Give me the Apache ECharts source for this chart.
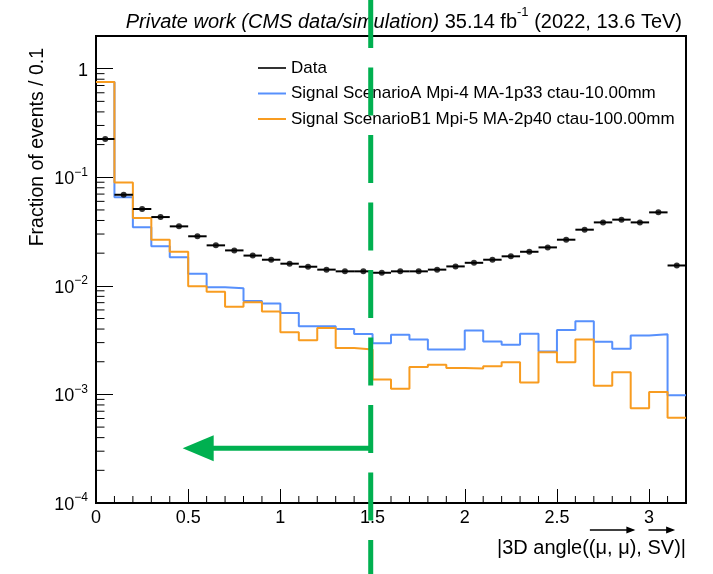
<!DOCTYPE html>
<html><head><meta charset="utf-8">
<script src="https://cdn.jsdelivr.net/npm/echarts@6/dist/echarts.min.js"></script>
<style>html,body{margin:0;padding:0;background:#fff}#c{width:713px;height:574px}</style>
</head><body><div id="c"></div>
<script>
// ---- data ----
const binEdges = [0,0.1,0.2,0.3,0.4,0.5,0.6,0.7,0.8,0.9,1.0,1.1,1.2,1.3,1.4,1.5,1.6,1.7,1.8,1.9,2.0,2.1,2.2,2.3,2.4,2.5,2.6,2.7,2.8,2.9,3.0,3.1,3.2];
const dataValues = [0.225,0.069,0.051,0.043,0.0353,0.0286,0.0236,0.0212,0.019,0.0174,0.016,0.0150,0.0141,0.0136,0.0136,0.0132,0.0136,0.0136,0.0141,0.0151,0.0163,0.0174,0.0187,0.0206,0.0226,0.0266,0.0329,0.0384,0.0407,0.0384,0.0475,0.0154];
const sigA = [0.754,0.0653,0.0346,0.0231,0.0183,0.0129,0.0097,0.0095,0.00726,0.00686,0.00562,0.00424,0.00424,0.00401,0.00361,0.00296,0.00355,0.00320,0.00259,0.00259,0.00387,0.00308,0.00287,0.00363,0.00249,0.00392,0.00471,0.00306,0.00264,0.00348,0.00358,0.00098];
const sigB = [0.754,0.0897,0.0422,0.0266,0.0206,0.0099,0.0088,0.00643,0.00705,0.00579,0.00373,0.00315,0.00409,0.00268,0.00259,0.00137,0.00113,0.00179,0.00188,0.00175,0.00173,0.00182,0.00198,0.00129,0.00244,0.00198,0.00320,0.00120,0.00160,0.000745,0.00105,0.00061];
const seriesNames = ['Data','Signal ScenarioA Mpi-4 MA-1p33 ctau-10.00mm','Signal ScenarioB1 Mpi-5 MA-2p40 ctau-100.00mm'];
const xTickValues = [0,0.5,1,1.5,2,2.5,3];
const xTickLabels = ['0','0.5','1','1.5','2','2.5','3'];
const xMinorValues = [0.1,0.2,0.3,0.4,0.6,0.7,0.8,0.9,1.1,1.2,1.3,1.4,1.6,1.7,1.8,1.9,2.1,2.2,2.3,2.4,2.6,2.7,2.8,2.9,3.1];
const yTickValues = [1e-4,1e-3,1e-2,1e-1,1];
const yTickLabels = ['{b|10}{s|\u22124}','{b|10}{s|\u22123}','{b|10}{s|\u22122}','{b|10}{s|\u22121}','{b|1}'];
const yMinorMantissa = [2,3,4,5,6,7,8,9];
const yMinorDecades = [1e-4,1e-3,1e-2,1e-1];
const cutX = 1.49;          // green dashed cut line
const arrowTipX = 0.47;     // green arrow tip
const arrowY = 3.2e-4;

const FAMILY = '"Liberation Sans", Arial, Helvetica, sans-serif';
const colA = '#5790fc', colB = '#f89c20';

const yMinorValues = [];
yMinorDecades.forEach(d => yMinorMantissa.forEach(m => yMinorValues.push(m*d)));

function stepData(vals){
  const d = vals.map((v,i)=>[binEdges[i], v]);
  d.push([binEdges[binEdges.length-1], vals[vals.length-1]]);
  return d;
}
const centers = dataValues.map((v,i)=>[(binEdges[i]+binEdges[i+1])/2, v]);
const errBars = dataValues.map((v,i)=>[binEdges[i], binEdges[i+1], v]);

const chart = echarts.init(document.getElementById('c'), null, {renderer:'canvas'});
const option = {
  animation:false,
  backgroundColor:'#fff',
  textStyle:{fontFamily:FAMILY},
  title:{
    text:'{i|Private work (CMS data/simulation)}{n| 35.14 fb}{s|-1}{n| (2022, 13.6 TeV)}',
    right:26, top:1,
    textStyle:{fontWeight:'normal', rich:{
      i:{fontFamily:FAMILY, fontStyle:'italic', fontWeight:'normal', fontSize:20, color:'#000', lineHeight:26, verticalAlign:'bottom'},
      n:{fontFamily:FAMILY, fontWeight:'normal', fontSize:20, color:'#000', lineHeight:26, verticalAlign:'bottom'},
      s:{fontFamily:FAMILY, fontWeight:'normal', fontSize:13, color:'#000', lineHeight:26, verticalAlign:'top'}
    }}
  },
  grid:{left:96, right:27, top:36, bottom:71, show:true, borderColor:'#000', borderWidth:2, backgroundColor:'transparent'},
  legend:{
    orient:'vertical', left:253, top:54, itemWidth:28, itemHeight:2, itemGap:7.5, icon:'rect',
    data:seriesNames,
    textStyle:{fontFamily:FAMILY, fontSize:17, color:'#000', lineHeight:18}
  },
  xAxis:{
    type:'value', min:0, max:3.2, interval:0.5,
    axisLine:{show:true, lineStyle:{color:'#000', width:2}},
    axisTick:{show:true, inside:true, length:14, lineStyle:{color:'#000', width:1}},
    splitLine:{show:false},
    axisLabel:{show:true, color:'#000', fontSize:18, fontFamily:FAMILY, margin:6, showMaxLabel:false,
      formatter:function(v){ const k = xTickValues.findIndex(t=>Math.abs(t-v)<1e-9); return k<0?'':xTickLabels[k]; }}
  },
  yAxis:{
    type:'log', logBase:10, min:1e-4, max:2,
    axisLine:{show:true, lineStyle:{color:'#000', width:2}},
    axisTick:{show:true, inside:true, length:17, lineStyle:{color:'#000', width:1}},
    splitLine:{show:false},
    axisLabel:{show:true, color:'#000', margin:8, showMaxLabel:false,
      formatter:function(v){ const k = yTickValues.findIndex(t=>Math.abs(Math.log10(t)-Math.log10(v))<1e-6); return k<0?'':yTickLabels[k]; },
      rich:{
        b:{fontFamily:FAMILY, fontSize:18, color:'#000', lineHeight:22, verticalAlign:'bottom'},
        s:{fontFamily:FAMILY, fontSize:12, color:'#000', lineHeight:22, verticalAlign:'top'}
      }}
  },
  series:[
    {name:seriesNames[1], type:'line', step:'end', showSymbol:false, symbol:'none', data:stepData(sigA),
     color:colA, lineStyle:{color:colA, width:2}, z:3},
    {name:seriesNames[2], type:'line', step:'end', showSymbol:false, symbol:'none', data:stepData(sigB),
     color:colB, lineStyle:{color:colB, width:2}, z:4},
    {type:'custom', silent:true, z:5, data:errBars,
     renderItem:function(p, api){
       const a = api.coord([api.value(0), api.value(2)]);
       const b = api.coord([api.value(1), api.value(2)]);
       return {type:'line', shape:{x1:a[0], y1:a[1], x2:b[0], y2:b[1]}, style:{stroke:'#000', lineWidth:2}};
     }},
    {name:seriesNames[0], type:'scatter', symbol:'circle', symbolSize:6, data:centers, color:'#000',
     itemStyle:{color:'#000'}, z:6},
    {type:'custom', silent:true, clip:false, z:7, data:yMinorValues.map(v=>[0,v]),
     renderItem:function(p, api){
       const a = api.coord([api.value(0), api.value(1)]);
       return {type:'line', shape:{x1:a[0], y1:a[1], x2:a[0]+8.5, y2:a[1]}, style:{stroke:'#000', lineWidth:1}};
     }},
    {type:'custom', silent:true, clip:false, z:7, data:xMinorValues.map(v=>[v,1e-4]),
     renderItem:function(p, api){
       const a = api.coord([api.value(0), api.value(1)]);
       return {type:'line', shape:{x1:a[0], y1:a[1], x2:a[0], y2:a[1]-7}, style:{stroke:'#000', lineWidth:1}};
     }}
  ]
};
chart.setOption(option);

// ---- annotations (axis titles, cut line, arrow) ----
const X_FS = 20;
const ctx = document.createElement('canvas').getContext('2d');
ctx.font = X_FS + 'px "Liberation Sans"';
const parts = ['|3D angle(', '(\u03bc, \u03bc)', ', ', 'SV', ')|'];
const widths = parts.map(s=>ctx.measureText(s).width);
const total = widths.reduce((a,b)=>a+b,0);
const xRight = 686, xTitleY = 548;
let xs = xRight - total;
const starts = [];
widths.forEach(w=>{ starts.push(xs); xs += w; });
function overArrow(x0, x1, y){
  return [
    {type:'line', shape:{x1:x0, y1:y, x2:x1-2, y2:y}, style:{stroke:'#000', lineWidth:1.5}},
    {type:'polygon', shape:{points:[[x1,y],[x1-9,y-3.5],[x1-9,y+3.5]]}, style:{fill:'#000'}}
  ];
}
const cutPx = chart.convertToPixel({gridIndex:0}, [cutX, arrowY]);
const tipPx = chart.convertToPixel({gridIndex:0}, [arrowTipX, arrowY]);
const green = '#00B050';
chart.setOption({graphic:[
  {type:'text', x:38, y:48, rotation:Math.PI/2, style:{text:'Fraction of events / 0.1', fontSize:19.5, fontFamily:'Liberation Sans', fill:'#000', align:'right', verticalAlign:'middle'}},
  {type:'text', x:xRight, y:xTitleY, style:{text:parts.join(''), fontSize:X_FS, fontFamily:'Liberation Sans', fill:'#000', align:'right', verticalAlign:'middle'}},
  ...overArrow(starts[1]+1, starts[1]+widths[1]-1, 530),
  ...overArrow(starts[3]+1, starts[3]+widths[3]+1, 530),
  {type:'line', z:100, shape:{x1:cutPx[0], y1:0, x2:cutPx[0], y2:574}, style:{stroke:green, lineWidth:5, lineDash:[48,19.5]}},
  {type:'line', z:100, shape:{x1:cutPx[0], y1:cutPx[1], x2:tipPx[0]+25, y2:cutPx[1]}, style:{stroke:green, lineWidth:5}},
  {type:'polygon', z:100, shape:{points:[[tipPx[0], tipPx[1]],[tipPx[0]+31, tipPx[1]-13],[tipPx[0]+31, tipPx[1]+13]]}, style:{fill:green}}
]});
</script>
</body></html>
